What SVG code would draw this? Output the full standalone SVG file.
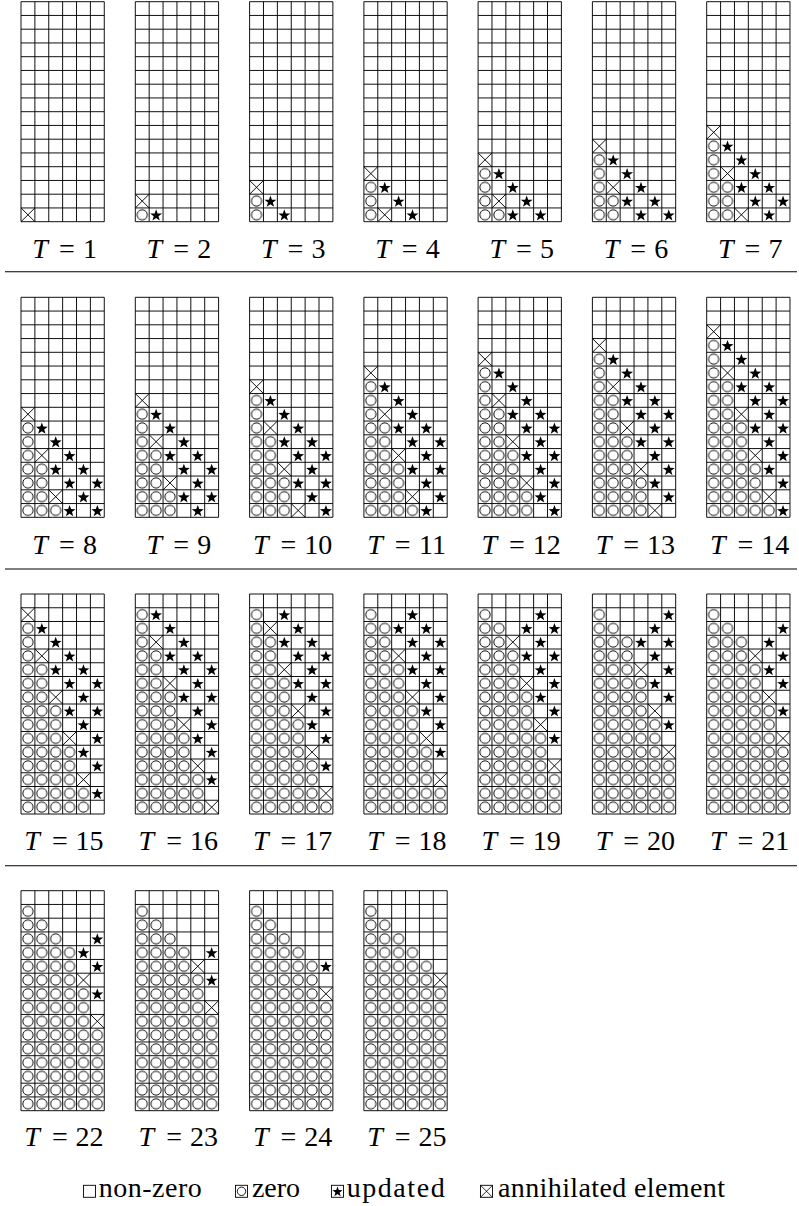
<svg xmlns="http://www.w3.org/2000/svg" xmlns:xlink="http://www.w3.org/1999/xlink" width="799" height="1206" viewBox="0 0 799 1206">
<style>
.lbl{font-family:'Liberation Serif','Times New Roman','DejaVu Serif',serif;font-size:28px;text-anchor:middle;fill:#000}
.it{font-style:italic}
.leg{font-family:'Liberation Serif','Times New Roman','DejaVu Serif',serif;font-size:28px;fill:#000}
.sep{stroke:#000;stroke-width:1.1}
.z{fill:url(#pz)}
</style>
<defs>
<path id="grid" fill="none" stroke="#000" stroke-width="0.068" d="M0 0H6V16H0ZM1 0V16M2 0V16M3 0V16M4 0V16M5 0V16M0 1H6M0 2H6M0 3H6M0 4H6M0 5H6M0 6H6M0 7H6M0 8H6M0 9H6M0 10H6M0 11H6M0 12H6M0 13H6M0 14H6M0 15H6"/>
<pattern id="pz" patternUnits="userSpaceOnUse" width="1" height="1"><circle cx="0.5" cy="0.5" r="0.37" fill="none" stroke="#000" stroke-width="0.068"/></pattern>
<path id="x" fill="none" stroke="#000" stroke-width="0.068" d="M0 0L1 1M1 0L0 1"/>
<polygon id="s" fill="#000" points="0.5,0.1 0.607,0.4 0.93,0.41 0.673,0.606 0.766,0.915 0.5,0.735 0.234,0.915 0.327,0.606 0.07,0.41 0.393,0.4"/>
</defs>

<g id="separators">
<line class="sep" x1="5" y1="271.7" x2="797" y2="271.7"/>
<line class="sep" x1="5" y1="569" x2="797" y2="569"/>
<line class="sep" x1="5" y1="865.7" x2="797" y2="865.7"/>
</g>

<g id="T1">
<g transform="translate(21,1.7) scale(13.88,13.75)">
<use href="#grid"/>
<use href="#x" x="0" y="15"/>
</g>
<text class="lbl" font-family="Liberation Serif, serif" y="258.3"><tspan class="it" x="40.1">T</tspan><tspan x="66.8">=</tspan><tspan x="89.9">1</tspan></text>
</g>

<g id="T2">
<g transform="translate(135.3,1.7) scale(13.88,13.75)">
<use href="#grid"/>
<rect class="z" x="0" y="15" width="1" height="1"/>
<use href="#x" x="0" y="14"/>
<use href="#s" x="1" y="15"/>
</g>
<text class="lbl" font-family="Liberation Serif, serif" y="258.3"><tspan class="it" x="154.4">T</tspan><tspan x="181.1">=</tspan><tspan x="204.2">2</tspan></text>
</g>

<g id="T3">
<g transform="translate(249.6,1.7) scale(13.88,13.75)">
<use href="#grid"/>
<rect class="z" x="0" y="14" width="1" height="2"/>
<use href="#x" x="0" y="13"/>
<use href="#s" x="1" y="14"/><use href="#s" x="2" y="15"/>
</g>
<text class="lbl" font-family="Liberation Serif, serif" y="258.3"><tspan class="it" x="268.7">T</tspan><tspan x="295.4">=</tspan><tspan x="318.5">3</tspan></text>
</g>

<g id="T4">
<g transform="translate(363.9,1.7) scale(13.88,13.75)">
<use href="#grid"/>
<rect class="z" x="0" y="13" width="1" height="3"/>
<use href="#x" x="0" y="12"/><use href="#x" x="1" y="15"/>
<use href="#s" x="1" y="13"/><use href="#s" x="2" y="14"/><use href="#s" x="3" y="15"/>
</g>
<text class="lbl" font-family="Liberation Serif, serif" y="258.3"><tspan class="it" x="383">T</tspan><tspan x="409.7">=</tspan><tspan x="432.8">4</tspan></text>
</g>

<g id="T5">
<g transform="translate(478.1,1.7) scale(13.88,13.75)">
<use href="#grid"/>
<rect class="z" x="0" y="12" width="1" height="4"/><rect class="z" x="1" y="15" width="1" height="1"/>
<use href="#x" x="0" y="11"/><use href="#x" x="1" y="14"/>
<use href="#s" x="1" y="12"/><use href="#s" x="2" y="13"/><use href="#s" x="3" y="14"/><use href="#s" x="4" y="15"/><use href="#s" x="2" y="15"/>
</g>
<text class="lbl" font-family="Liberation Serif, serif" y="258.3"><tspan class="it" x="497.2">T</tspan><tspan x="523.9">=</tspan><tspan x="547">5</tspan></text>
</g>

<g id="T6">
<g transform="translate(592.4,1.7) scale(13.88,13.75)">
<use href="#grid"/>
<rect class="z" x="0" y="11" width="1" height="5"/><rect class="z" x="1" y="14" width="1" height="2"/>
<use href="#x" x="0" y="10"/><use href="#x" x="1" y="13"/>
<use href="#s" x="1" y="11"/><use href="#s" x="2" y="12"/><use href="#s" x="3" y="13"/><use href="#s" x="4" y="14"/><use href="#s" x="5" y="15"/><use href="#s" x="2" y="14"/><use href="#s" x="3" y="15"/>
</g>
<text class="lbl" font-family="Liberation Serif, serif" y="258.3"><tspan class="it" x="611.5">T</tspan><tspan x="638.2">=</tspan><tspan x="661.3">6</tspan></text>
</g>

<g id="T7">
<g transform="translate(706.7,1.7) scale(13.88,13.75)">
<use href="#grid"/>
<rect class="z" x="0" y="10" width="1" height="6"/><rect class="z" x="1" y="13" width="1" height="3"/>
<use href="#x" x="0" y="9"/><use href="#x" x="1" y="12"/><use href="#x" x="2" y="15"/>
<use href="#s" x="1" y="10"/><use href="#s" x="2" y="11"/><use href="#s" x="3" y="12"/><use href="#s" x="4" y="13"/><use href="#s" x="5" y="14"/><use href="#s" x="2" y="13"/><use href="#s" x="3" y="14"/><use href="#s" x="4" y="15"/>
</g>
<text class="lbl" font-family="Liberation Serif, serif" y="258.3"><tspan class="it" x="725.8">T</tspan><tspan x="752.5">=</tspan><tspan x="775.6">7</tspan></text>
</g>

<g id="T8">
<g transform="translate(21,297.3) scale(13.88,13.75)">
<use href="#grid"/>
<rect class="z" x="0" y="9" width="1" height="7"/><rect class="z" x="1" y="12" width="1" height="4"/><rect class="z" x="2" y="15" width="1" height="1"/>
<use href="#x" x="0" y="8"/><use href="#x" x="1" y="11"/><use href="#x" x="2" y="14"/>
<use href="#s" x="1" y="9"/><use href="#s" x="2" y="10"/><use href="#s" x="3" y="11"/><use href="#s" x="4" y="12"/><use href="#s" x="5" y="13"/><use href="#s" x="2" y="12"/><use href="#s" x="3" y="13"/><use href="#s" x="4" y="14"/><use href="#s" x="5" y="15"/><use href="#s" x="3" y="15"/>
</g>
<text class="lbl" font-family="Liberation Serif, serif" y="554.3"><tspan class="it" x="40.1">T</tspan><tspan x="66.8">=</tspan><tspan x="89.9">8</tspan></text>
</g>

<g id="T9">
<g transform="translate(135.3,297.3) scale(13.88,13.75)">
<use href="#grid"/>
<rect class="z" x="0" y="8" width="1" height="8"/><rect class="z" x="1" y="11" width="1" height="5"/><rect class="z" x="2" y="14" width="1" height="2"/>
<use href="#x" x="0" y="7"/><use href="#x" x="1" y="10"/><use href="#x" x="2" y="13"/>
<use href="#s" x="1" y="8"/><use href="#s" x="2" y="9"/><use href="#s" x="3" y="10"/><use href="#s" x="4" y="11"/><use href="#s" x="5" y="12"/><use href="#s" x="2" y="11"/><use href="#s" x="3" y="12"/><use href="#s" x="4" y="13"/><use href="#s" x="5" y="14"/><use href="#s" x="3" y="14"/><use href="#s" x="4" y="15"/>
</g>
<text class="lbl" font-family="Liberation Serif, serif" y="554.3"><tspan class="it" x="154.4">T</tspan><tspan x="181.1">=</tspan><tspan x="204.2">9</tspan></text>
</g>

<g id="T10">
<g transform="translate(249.6,297.3) scale(13.88,13.75)">
<use href="#grid"/>
<rect class="z" x="0" y="7" width="1" height="9"/><rect class="z" x="1" y="10" width="1" height="6"/><rect class="z" x="2" y="13" width="1" height="3"/>
<use href="#x" x="0" y="6"/><use href="#x" x="1" y="9"/><use href="#x" x="2" y="12"/><use href="#x" x="3" y="15"/>
<use href="#s" x="1" y="7"/><use href="#s" x="2" y="8"/><use href="#s" x="3" y="9"/><use href="#s" x="4" y="10"/><use href="#s" x="5" y="11"/><use href="#s" x="2" y="10"/><use href="#s" x="3" y="11"/><use href="#s" x="4" y="12"/><use href="#s" x="5" y="13"/><use href="#s" x="3" y="13"/><use href="#s" x="4" y="14"/><use href="#s" x="5" y="15"/>
</g>
<text class="lbl" font-family="Liberation Serif, serif" y="554.3"><tspan class="it" x="260.7">T</tspan><tspan x="288.4">=</tspan><tspan x="318.2">10</tspan></text>
</g>

<g id="T11">
<g transform="translate(363.9,297.3) scale(13.88,13.75)">
<use href="#grid"/>
<rect class="z" x="0" y="6" width="1" height="10"/><rect class="z" x="1" y="9" width="1" height="7"/><rect class="z" x="2" y="12" width="1" height="4"/><rect class="z" x="3" y="15" width="1" height="1"/>
<use href="#x" x="0" y="5"/><use href="#x" x="1" y="8"/><use href="#x" x="2" y="11"/><use href="#x" x="3" y="14"/>
<use href="#s" x="1" y="6"/><use href="#s" x="2" y="7"/><use href="#s" x="3" y="8"/><use href="#s" x="4" y="9"/><use href="#s" x="5" y="10"/><use href="#s" x="2" y="9"/><use href="#s" x="3" y="10"/><use href="#s" x="4" y="11"/><use href="#s" x="5" y="12"/><use href="#s" x="3" y="12"/><use href="#s" x="4" y="13"/><use href="#s" x="5" y="14"/><use href="#s" x="4" y="15"/>
</g>
<text class="lbl" font-family="Liberation Serif, serif" y="554.3"><tspan class="it" x="375">T</tspan><tspan x="402.7">=</tspan><tspan x="432.5">11</tspan></text>
</g>

<g id="T12">
<g transform="translate(478.1,297.3) scale(13.88,13.75)">
<use href="#grid"/>
<rect class="z" x="0" y="5" width="1" height="11"/><rect class="z" x="1" y="8" width="1" height="8"/><rect class="z" x="2" y="11" width="1" height="5"/><rect class="z" x="3" y="14" width="1" height="2"/>
<use href="#x" x="0" y="4"/><use href="#x" x="1" y="7"/><use href="#x" x="2" y="10"/><use href="#x" x="3" y="13"/>
<use href="#s" x="1" y="5"/><use href="#s" x="2" y="6"/><use href="#s" x="3" y="7"/><use href="#s" x="4" y="8"/><use href="#s" x="5" y="9"/><use href="#s" x="2" y="8"/><use href="#s" x="3" y="9"/><use href="#s" x="4" y="10"/><use href="#s" x="5" y="11"/><use href="#s" x="3" y="11"/><use href="#s" x="4" y="12"/><use href="#s" x="5" y="13"/><use href="#s" x="4" y="14"/><use href="#s" x="5" y="15"/>
</g>
<text class="lbl" font-family="Liberation Serif, serif" y="554.3"><tspan class="it" x="489.2">T</tspan><tspan x="516.9">=</tspan><tspan x="546.7">12</tspan></text>
</g>

<g id="T13">
<g transform="translate(592.4,297.3) scale(13.88,13.75)">
<use href="#grid"/>
<rect class="z" x="0" y="4" width="1" height="12"/><rect class="z" x="1" y="7" width="1" height="9"/><rect class="z" x="2" y="10" width="1" height="6"/><rect class="z" x="3" y="13" width="1" height="3"/>
<use href="#x" x="0" y="3"/><use href="#x" x="1" y="6"/><use href="#x" x="2" y="9"/><use href="#x" x="3" y="12"/><use href="#x" x="4" y="15"/>
<use href="#s" x="1" y="4"/><use href="#s" x="2" y="5"/><use href="#s" x="3" y="6"/><use href="#s" x="4" y="7"/><use href="#s" x="5" y="8"/><use href="#s" x="2" y="7"/><use href="#s" x="3" y="8"/><use href="#s" x="4" y="9"/><use href="#s" x="5" y="10"/><use href="#s" x="3" y="10"/><use href="#s" x="4" y="11"/><use href="#s" x="5" y="12"/><use href="#s" x="4" y="13"/><use href="#s" x="5" y="14"/>
</g>
<text class="lbl" font-family="Liberation Serif, serif" y="554.3"><tspan class="it" x="603.5">T</tspan><tspan x="631.2">=</tspan><tspan x="661">13</tspan></text>
</g>

<g id="T14">
<g transform="translate(706.7,297.3) scale(13.88,13.75)">
<use href="#grid"/>
<rect class="z" x="0" y="3" width="1" height="13"/><rect class="z" x="1" y="6" width="1" height="10"/><rect class="z" x="2" y="9" width="1" height="7"/><rect class="z" x="3" y="12" width="1" height="4"/><rect class="z" x="4" y="15" width="1" height="1"/>
<use href="#x" x="0" y="2"/><use href="#x" x="1" y="5"/><use href="#x" x="2" y="8"/><use href="#x" x="3" y="11"/><use href="#x" x="4" y="14"/>
<use href="#s" x="1" y="3"/><use href="#s" x="2" y="4"/><use href="#s" x="3" y="5"/><use href="#s" x="4" y="6"/><use href="#s" x="5" y="7"/><use href="#s" x="2" y="6"/><use href="#s" x="3" y="7"/><use href="#s" x="4" y="8"/><use href="#s" x="5" y="9"/><use href="#s" x="3" y="9"/><use href="#s" x="4" y="10"/><use href="#s" x="5" y="11"/><use href="#s" x="4" y="12"/><use href="#s" x="5" y="13"/><use href="#s" x="5" y="15"/>
</g>
<text class="lbl" font-family="Liberation Serif, serif" y="554.3"><tspan class="it" x="717.8">T</tspan><tspan x="745.5">=</tspan><tspan x="775.3">14</tspan></text>
</g>

<g id="T15">
<g transform="translate(21,594) scale(13.88,13.75)">
<use href="#grid"/>
<rect class="z" x="0" y="2" width="1" height="14"/><rect class="z" x="1" y="5" width="1" height="11"/><rect class="z" x="2" y="8" width="1" height="8"/><rect class="z" x="3" y="11" width="1" height="5"/><rect class="z" x="4" y="14" width="1" height="2"/>
<use href="#x" x="0" y="1"/><use href="#x" x="1" y="4"/><use href="#x" x="2" y="7"/><use href="#x" x="3" y="10"/><use href="#x" x="4" y="13"/>
<use href="#s" x="1" y="2"/><use href="#s" x="2" y="3"/><use href="#s" x="3" y="4"/><use href="#s" x="4" y="5"/><use href="#s" x="5" y="6"/><use href="#s" x="2" y="5"/><use href="#s" x="3" y="6"/><use href="#s" x="4" y="7"/><use href="#s" x="5" y="8"/><use href="#s" x="3" y="8"/><use href="#s" x="4" y="9"/><use href="#s" x="5" y="10"/><use href="#s" x="4" y="11"/><use href="#s" x="5" y="12"/><use href="#s" x="5" y="14"/>
</g>
<text class="lbl" font-family="Liberation Serif, serif" y="850"><tspan class="it" x="32.1">T</tspan><tspan x="59.8">=</tspan><tspan x="89.6">15</tspan></text>
</g>

<g id="T16">
<g transform="translate(135.3,594) scale(13.88,13.75)">
<use href="#grid"/>
<rect class="z" x="0" y="1" width="1" height="15"/><rect class="z" x="1" y="4" width="1" height="12"/><rect class="z" x="2" y="7" width="1" height="9"/><rect class="z" x="3" y="10" width="1" height="6"/><rect class="z" x="4" y="13" width="1" height="3"/>
<use href="#x" x="1" y="3"/><use href="#x" x="2" y="6"/><use href="#x" x="3" y="9"/><use href="#x" x="4" y="12"/><use href="#x" x="5" y="15"/>
<use href="#s" x="1" y="1"/><use href="#s" x="2" y="2"/><use href="#s" x="3" y="3"/><use href="#s" x="4" y="4"/><use href="#s" x="5" y="5"/><use href="#s" x="2" y="4"/><use href="#s" x="3" y="5"/><use href="#s" x="4" y="6"/><use href="#s" x="5" y="7"/><use href="#s" x="3" y="7"/><use href="#s" x="4" y="8"/><use href="#s" x="5" y="9"/><use href="#s" x="4" y="10"/><use href="#s" x="5" y="11"/><use href="#s" x="5" y="13"/>
</g>
<text class="lbl" font-family="Liberation Serif, serif" y="850"><tspan class="it" x="146.4">T</tspan><tspan x="174.1">=</tspan><tspan x="203.9">16</tspan></text>
</g>

<g id="T17">
<g transform="translate(249.6,594) scale(13.88,13.75)">
<use href="#grid"/>
<rect class="z" x="0" y="1" width="1" height="15"/><rect class="z" x="1" y="3" width="1" height="13"/><rect class="z" x="2" y="6" width="1" height="10"/><rect class="z" x="3" y="9" width="1" height="7"/><rect class="z" x="4" y="12" width="1" height="4"/><rect class="z" x="5" y="15" width="1" height="1"/>
<use href="#x" x="1" y="2"/><use href="#x" x="2" y="5"/><use href="#x" x="3" y="8"/><use href="#x" x="4" y="11"/><use href="#x" x="5" y="14"/>
<use href="#s" x="2" y="1"/><use href="#s" x="3" y="2"/><use href="#s" x="4" y="3"/><use href="#s" x="5" y="4"/><use href="#s" x="2" y="3"/><use href="#s" x="3" y="4"/><use href="#s" x="4" y="5"/><use href="#s" x="5" y="6"/><use href="#s" x="3" y="6"/><use href="#s" x="4" y="7"/><use href="#s" x="5" y="8"/><use href="#s" x="4" y="9"/><use href="#s" x="5" y="10"/><use href="#s" x="5" y="12"/>
</g>
<text class="lbl" font-family="Liberation Serif, serif" y="850"><tspan class="it" x="260.7">T</tspan><tspan x="288.4">=</tspan><tspan x="318.2">17</tspan></text>
</g>

<g id="T18">
<g transform="translate(363.9,594) scale(13.88,13.75)">
<use href="#grid"/>
<rect class="z" x="0" y="1" width="1" height="15"/><rect class="z" x="1" y="2" width="1" height="14"/><rect class="z" x="2" y="5" width="1" height="11"/><rect class="z" x="3" y="8" width="1" height="8"/><rect class="z" x="4" y="11" width="1" height="5"/><rect class="z" x="5" y="14" width="1" height="2"/>
<use href="#x" x="2" y="4"/><use href="#x" x="3" y="7"/><use href="#x" x="4" y="10"/><use href="#x" x="5" y="13"/>
<use href="#s" x="3" y="1"/><use href="#s" x="4" y="2"/><use href="#s" x="5" y="3"/><use href="#s" x="2" y="2"/><use href="#s" x="3" y="3"/><use href="#s" x="4" y="4"/><use href="#s" x="5" y="5"/><use href="#s" x="3" y="5"/><use href="#s" x="4" y="6"/><use href="#s" x="5" y="7"/><use href="#s" x="4" y="8"/><use href="#s" x="5" y="9"/><use href="#s" x="5" y="11"/>
</g>
<text class="lbl" font-family="Liberation Serif, serif" y="850"><tspan class="it" x="375">T</tspan><tspan x="402.7">=</tspan><tspan x="432.5">18</tspan></text>
</g>

<g id="T19">
<g transform="translate(478.1,594) scale(13.88,13.75)">
<use href="#grid"/>
<rect class="z" x="0" y="1" width="1" height="15"/><rect class="z" x="1" y="2" width="1" height="14"/><rect class="z" x="2" y="4" width="1" height="12"/><rect class="z" x="3" y="7" width="1" height="9"/><rect class="z" x="4" y="10" width="1" height="6"/><rect class="z" x="5" y="13" width="1" height="3"/>
<use href="#x" x="2" y="3"/><use href="#x" x="3" y="6"/><use href="#x" x="4" y="9"/><use href="#x" x="5" y="12"/>
<use href="#s" x="4" y="1"/><use href="#s" x="5" y="2"/><use href="#s" x="3" y="2"/><use href="#s" x="4" y="3"/><use href="#s" x="5" y="4"/><use href="#s" x="3" y="4"/><use href="#s" x="4" y="5"/><use href="#s" x="5" y="6"/><use href="#s" x="4" y="7"/><use href="#s" x="5" y="8"/><use href="#s" x="5" y="10"/>
</g>
<text class="lbl" font-family="Liberation Serif, serif" y="850"><tspan class="it" x="489.2">T</tspan><tspan x="516.9">=</tspan><tspan x="546.7">19</tspan></text>
</g>

<g id="T20">
<g transform="translate(592.4,594) scale(13.88,13.75)">
<use href="#grid"/>
<rect class="z" x="0" y="1" width="1" height="15"/><rect class="z" x="1" y="2" width="1" height="14"/><rect class="z" x="2" y="3" width="1" height="13"/><rect class="z" x="3" y="6" width="1" height="10"/><rect class="z" x="4" y="9" width="1" height="7"/><rect class="z" x="5" y="12" width="1" height="4"/>
<use href="#x" x="3" y="5"/><use href="#x" x="4" y="8"/><use href="#x" x="5" y="11"/>
<use href="#s" x="5" y="1"/><use href="#s" x="4" y="2"/><use href="#s" x="5" y="3"/><use href="#s" x="3" y="3"/><use href="#s" x="4" y="4"/><use href="#s" x="5" y="5"/><use href="#s" x="4" y="6"/><use href="#s" x="5" y="7"/><use href="#s" x="5" y="9"/>
</g>
<text class="lbl" font-family="Liberation Serif, serif" y="850"><tspan class="it" x="603.5">T</tspan><tspan x="631.2">=</tspan><tspan x="661">20</tspan></text>
</g>

<g id="T21">
<g transform="translate(706.7,594) scale(13.88,13.75)">
<use href="#grid"/>
<rect class="z" x="0" y="1" width="1" height="15"/><rect class="z" x="1" y="2" width="1" height="14"/><rect class="z" x="2" y="3" width="1" height="13"/><rect class="z" x="3" y="5" width="1" height="11"/><rect class="z" x="4" y="8" width="1" height="8"/><rect class="z" x="5" y="11" width="1" height="5"/>
<use href="#x" x="3" y="4"/><use href="#x" x="4" y="7"/><use href="#x" x="5" y="10"/>
<use href="#s" x="5" y="2"/><use href="#s" x="4" y="3"/><use href="#s" x="5" y="4"/><use href="#s" x="4" y="5"/><use href="#s" x="5" y="6"/><use href="#s" x="5" y="8"/>
</g>
<text class="lbl" font-family="Liberation Serif, serif" y="850"><tspan class="it" x="717.8">T</tspan><tspan x="745.5">=</tspan><tspan x="775.3">21</tspan></text>
</g>

<g id="T22">
<g transform="translate(21,890.7) scale(13.88,13.75)">
<use href="#grid"/>
<rect class="z" x="0" y="1" width="1" height="15"/><rect class="z" x="1" y="2" width="1" height="14"/><rect class="z" x="2" y="3" width="1" height="13"/><rect class="z" x="3" y="4" width="1" height="12"/><rect class="z" x="4" y="7" width="1" height="9"/><rect class="z" x="5" y="10" width="1" height="6"/>
<use href="#x" x="4" y="6"/><use href="#x" x="5" y="9"/>
<use href="#s" x="5" y="3"/><use href="#s" x="4" y="4"/><use href="#s" x="5" y="5"/><use href="#s" x="5" y="7"/>
</g>
<text class="lbl" font-family="Liberation Serif, serif" y="1145.7"><tspan class="it" x="32.1">T</tspan><tspan x="59.8">=</tspan><tspan x="89.6">22</tspan></text>
</g>

<g id="T23">
<g transform="translate(135.3,890.7) scale(13.88,13.75)">
<use href="#grid"/>
<rect class="z" x="0" y="1" width="1" height="15"/><rect class="z" x="1" y="2" width="1" height="14"/><rect class="z" x="2" y="3" width="1" height="13"/><rect class="z" x="3" y="4" width="1" height="12"/><rect class="z" x="4" y="6" width="1" height="10"/><rect class="z" x="5" y="9" width="1" height="7"/>
<use href="#x" x="4" y="5"/><use href="#x" x="5" y="8"/>
<use href="#s" x="5" y="4"/><use href="#s" x="5" y="6"/>
</g>
<text class="lbl" font-family="Liberation Serif, serif" y="1145.7"><tspan class="it" x="146.4">T</tspan><tspan x="174.1">=</tspan><tspan x="203.9">23</tspan></text>
</g>

<g id="T24">
<g transform="translate(249.6,890.7) scale(13.88,13.75)">
<use href="#grid"/>
<rect class="z" x="0" y="1" width="1" height="15"/><rect class="z" x="1" y="2" width="1" height="14"/><rect class="z" x="2" y="3" width="1" height="13"/><rect class="z" x="3" y="4" width="1" height="12"/><rect class="z" x="4" y="5" width="1" height="11"/><rect class="z" x="5" y="8" width="1" height="8"/>
<use href="#x" x="5" y="7"/>
<use href="#s" x="5" y="5"/>
</g>
<text class="lbl" font-family="Liberation Serif, serif" y="1145.7"><tspan class="it" x="260.7">T</tspan><tspan x="288.4">=</tspan><tspan x="318.2">24</tspan></text>
</g>

<g id="T25">
<g transform="translate(363.9,890.7) scale(13.88,13.75)">
<use href="#grid"/>
<rect class="z" x="0" y="1" width="1" height="15"/><rect class="z" x="1" y="2" width="1" height="14"/><rect class="z" x="2" y="3" width="1" height="13"/><rect class="z" x="3" y="4" width="1" height="12"/><rect class="z" x="4" y="5" width="1" height="11"/><rect class="z" x="5" y="7" width="1" height="9"/>
<use href="#x" x="5" y="6"/>
</g>
<text class="lbl" font-family="Liberation Serif, serif" y="1145.7"><tspan class="it" x="375">T</tspan><tspan x="402.7">=</tspan><tspan x="432.5">25</tspan></text>
</g>

<g id="legend">
<rect x="83.5" y="1185.3" width="12" height="12" fill="none" stroke="#000" stroke-width="0.9"/>
<text class="leg" font-family="Liberation Serif, serif" x="98.7" y="1197" textLength="103" lengthAdjust="spacing">non-zero</text>
<rect x="235.5" y="1185.3" width="12" height="12" fill="none" stroke="#000" stroke-width="0.9"/>
<circle cx="241.5" cy="1191.3" r="4.2" fill="none" stroke="#000" stroke-width="0.9"/>
<text class="leg" font-family="Liberation Serif, serif" x="252" y="1197" textLength="48" lengthAdjust="spacing">zero</text>
<rect x="331.5" y="1185.3" width="12" height="12" fill="none" stroke="#000" stroke-width="0.9"/>
<use href="#s" transform="translate(331.5,1185.3) scale(12)"/>
<text class="leg" font-family="Liberation Serif, serif" x="346.7" y="1197" textLength="98" lengthAdjust="spacing">updated</text>
<rect x="480.5" y="1185.3" width="12" height="12" fill="none" stroke="#000" stroke-width="0.9"/>
<use href="#x" transform="translate(480.5,1185.3) scale(12)"/>
<text class="leg" font-family="Liberation Serif, serif" x="498" y="1197" textLength="227" lengthAdjust="spacing">annihilated element</text>
</g>
</svg>
